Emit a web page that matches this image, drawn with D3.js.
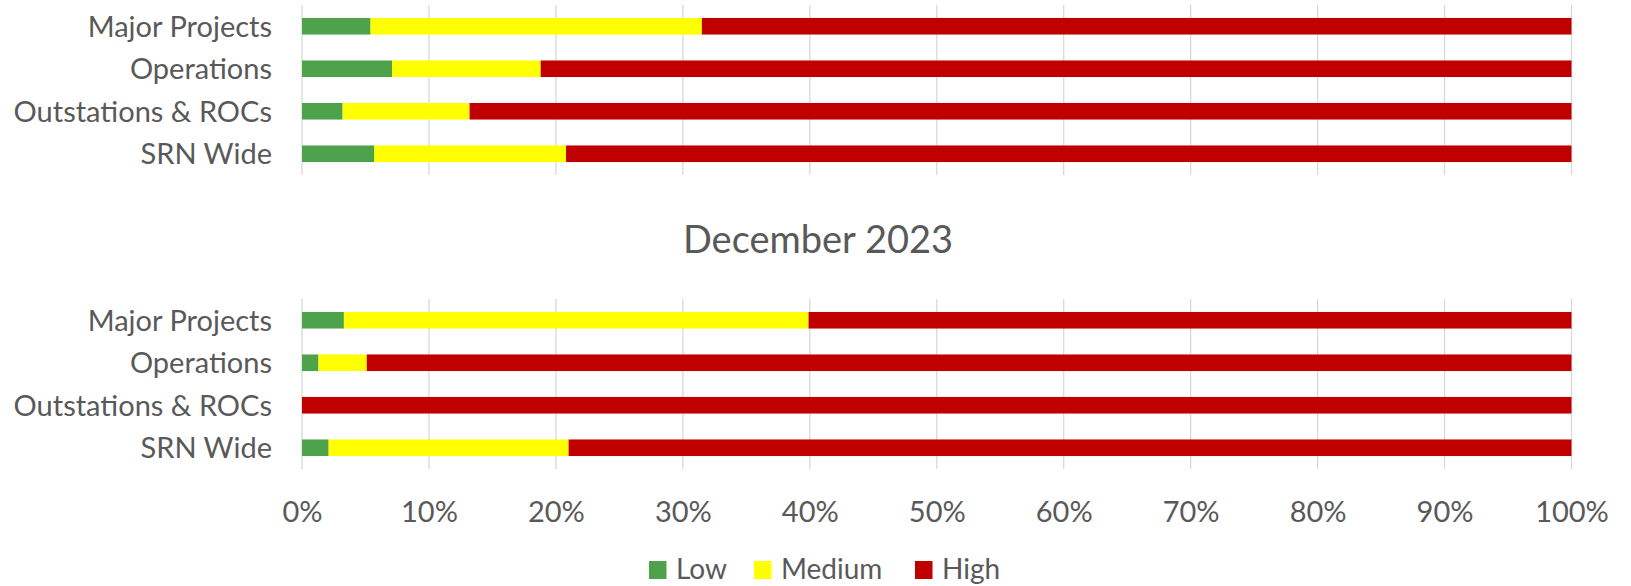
<!DOCTYPE html>
<html>
<head>
<meta charset="utf-8">
<script src="https://cdn.jsdelivr.net/npm/d3@7"></script>
<style>
  html, body { margin: 0; padding: 0; background: #fff; }
  svg { display: block; }
  text { font-family: Lato, "Open Sans", sans-serif; fill: #595959; }
</style>
</head>
<body>
<svg id="chart" width="1631" height="586"></svg>
<script>
// ---- data ----
const categories = ["Major Projects", "Operations", "Outstations & ROCs", "SRN Wide"];
const seriesNames = ["Low", "Medium", "High"];
const seriesColors = ["#4EA24B", "#FFFF00", "#C00000"];
const panelTitles = ["", "December 2023"];
// panel 1 (top) percentages
const topLow    = [5.4, 7.1, 3.2, 5.7];
const topMedium = [26.1, 11.7, 10.0, 15.1];
const topHigh   = [68.5, 81.2, 86.8, 79.2];
// panel 2 (December 2023) percentages
const decLow    = [3.3, 1.3, 0.0, 2.1];
const decMedium = [36.6, 3.8, 0.0, 18.9];
const decHigh   = [60.1, 94.9, 100.0, 79.0];
const tickValues = [0, 10, 20, 30, 40, 50, 60, 70, 80, 90, 100];
const tickLabels = ["0%", "10%", "20%", "30%", "40%", "50%", "60%", "70%", "80%", "90%", "100%"];

// ---- layout ----
const svg = d3.select("#chart");
const x = d3.scaleLinear().domain([0, 100]).range([302, 1571.5]);
const FS = 29;

function buildRows(low, med, high) {
  return categories.map((c, i) => ({ cat: c, Low: low[i], Medium: med[i], High: high[i] }));
}
const panels = [
  { rows: buildRows(topLow, topMedium, topHigh), y0: 5, y1: 175 },
  { rows: buildRows(decLow, decMedium, decHigh), y0: 299, y1: 469 }
];

const stack = d3.stack().keys(seriesNames);

panels.forEach((p, pi) => {
  const g = svg.append("g");
  const y = d3.scaleBand().domain(categories).range([p.y0, p.y1]).paddingInner(0.61).paddingOuter(0.305);

  // gridlines
  g.append("g").selectAll("line").data(tickValues).join("line")
    .attr("x1", d => x(d)).attr("x2", d => x(d))
    .attr("y1", p.y0).attr("y2", p.y1)
    .attr("stroke", "#D9D9D9").attr("stroke-width", 1.3);

  // bars
  const stacked = stack(p.rows);
  g.append("g").selectAll("g").data(stacked).join("g")
    .attr("fill", (d, i) => seriesColors[i])
    .selectAll("rect").data(d => d).join("rect")
    .attr("x", d => x(d[0]))
    .attr("width", d => Math.max(0, x(d[1]) - x(d[0])))
    .attr("y", d => y(d.data.cat))
    .attr("height", y.bandwidth());

  // category labels
  const yAxis = d3.axisLeft(y).tickSize(0).tickPadding(0);
  const ax = g.append("g").attr("transform", "translate(272,0)").call(yAxis);
  ax.select(".domain").remove();
  ax.selectAll("text")
    .attr("font-family", "Lato, 'Open Sans', sans-serif")
    .attr("font-size", FS)
    .attr("fill", "#595959")
    .attr("dy", "0.36em");
});

// title
svg.append("text")
  .attr("x", 818).attr("y", 253)
  .attr("text-anchor", "middle")
  .attr("font-size", 38)
  .text(panelTitles[1]);

// x axis tick labels
const xAxis = d3.axisBottom(x).tickValues(tickValues).tickSize(0).tickPadding(0)
  .tickFormat((d, i) => tickLabels[i]);
const xa = svg.append("g").attr("transform", "translate(0,521.5)").call(xAxis);
xa.select(".domain").remove();
xa.selectAll("text")
  .attr("font-family", "Lato, 'Open Sans', sans-serif")
  .attr("font-size", FS)
  .attr("fill", "#595959")
  .attr("y", 0)
  .attr("dy", 0);

// legend
const legendX = [649, 754, 915];
const lg = svg.append("g").selectAll("g").data(seriesNames).join("g")
  .attr("transform", (d, i) => `translate(${legendX[i]},561)`);
lg.append("rect").attr("width", 17.5).attr("height", 18)
  .attr("fill", (d, i) => seriesColors[i]);
lg.append("text").attr("x", 27).attr("y", 18)
  .attr("font-size", 28)
  .text(d => d);
</script>
</body>
</html>
